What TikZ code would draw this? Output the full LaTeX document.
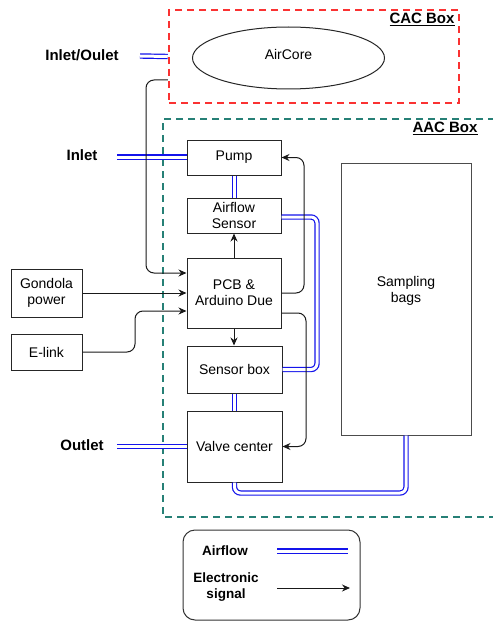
\documentclass[tikz,border=0pt]{standalone}
\usepackage{fontspec}
\setmainfont{Liberation Sans}
\usetikzlibrary{arrows.meta,calc,shapes.geometric}
\definecolor{airblue}{RGB}{20,20,235}
\definecolor{cacred}{RGB}{250,50,50}
\definecolor{aacteal}{RGB}{38,128,118}
\begin{document}
\begin{tikzpicture}[x=1pt,y=-1pt,
 box/.style={draw=black!85,line width=1pt,rectangle,align=center,font=\fontsize{14}{16}\selectfont,inner sep=0pt},
 air/.style={draw=airblue,double=white,double distance=3pt,line width=1.2pt,rounded corners=6pt},
 sig/.style={draw=black!90,line width=1pt,-{Stealth[length=8pt,width=7pt]},rounded corners=8pt},
 lab/.style={font=\bfseries\fontsize{15}{17}\selectfont},
 leglab/.style={font=\bfseries\fontsize{13.5}{16}\selectfont,align=center}
]
\useasboundingbox (0,0) rectangle (492,623);

% CAC box
\node[draw=cacred,dash pattern=on 7pt off 5pt,line width=2.5pt,minimum width=290pt,minimum height=93pt,inner sep=0pt] (cac) at (314,56.5) {};
\node[lab] (caclab) at (422,19) {\underline{CAC Box}};
\node[draw=black!85,line width=1pt,ellipse,minimum width=192pt,minimum height=62pt,inner sep=0pt] (aircore) at (288.5,58) {};
\node[font=\fontsize{14}{16}\selectfont] (aircorelab) at (288.5,54.5) {AirCore};

% AAC box
\draw[aacteal,dash pattern=on 7pt off 5pt,line width=2pt] (495,119) -- (163,119) -- (163,517) -- (495,517);
\node[lab] (aaclab) at (445,128) {\underline{AAC Box}};

% boxes
\node[box,minimum width=94pt,minimum height=35pt] (pump) at (234,157.5) {Pump};
\node[box,minimum width=94pt,minimum height=35pt] (afs) at (234,215.5) {Airflow\\Sensor};
\node[box,minimum width=94pt,minimum height=70pt] (pcb) at (234,293) {PCB \&\\Arduino Due};
\node[box,minimum width=95pt,minimum height=47pt] (sbox) at (234.5,369.5) {Sensor box};
\node[box,minimum width=95pt,minimum height=71pt] (valve) at (234.5,446.5) {Valve center};
\node[box,draw=black!70,minimum width=130pt,minimum height=272pt] (bags) at (406,299) {};
\node[font=\fontsize{14}{16}\selectfont,align=center] (bagslab) at (406,291) {Sampling\\bags};
\node[box,minimum width=71pt,minimum height=48pt] (gond) at (46.5,293) {Gondola\\power};
\node[box,minimum width=71pt,minimum height=36pt] (elink) at (46.5,352) {E-link};

% side labels
\node[lab] (io) at (82,55) {Inlet/Oulet};
\node[lab] (inlet) at (82,155) {Inlet};
\node[lab] (outlet) at (82,445) {Outlet};
\coordinate (ioend) at (140,56);
\coordinate (inend) at (117,157);
\coordinate (outend) at (117,446.5);

% airflow connectors
\draw[air] (ioend) -- (cac.west);
\draw[air] (inend) -- (pump.west |- inend);
\draw[air] (outend) -- (valve.west);
\draw[air] ([xshift=0.5pt]pump.south) -- ([xshift=0.5pt]afs.north);
\draw[air] (sbox.south) -- (valve.north);
\draw[air] ([yshift=-1.5pt]afs.east) -- (317,217) -- (317,369.5) -- (sbox.east);
\draw[air] (valve.south) -- (234.5,493) -- (406,493) -- (bags.south);

% signal connectors
\draw[sig] ([yshift=-23.5pt]cac.west) -- (146,80) -- (146,273) -- (pcb.west |- 0,273);
\draw[sig] (gond.east) -- (pcb.west);
\draw[sig] (elink.east) -- (135,352) -- (135,311) -- (pcb.west |- 0,311);
\draw[sig] (pcb.north) -- (afs.south);
\draw[sig] (pcb.south) -- (sbox.north -| pcb.south);
\draw[sig] (pcb.east) -- (304,293) -- (304,157.5) -- (pump.east);
\draw[sig] (pcb.east |- 0,313) -- (306,313) -- (306,446.5) -- (valve.east);

% legend
\node[draw=black!80,line width=1pt,rounded corners=12pt,minimum width=177pt,minimum height=90pt,inner sep=0pt] (legend) at (271.5,575) {};
\node[leglab] (lgair) at (225,551) {Airflow};
\node[leglab] (lgsig) at (226,587) {Electronic\\signal};
\coordinate (la1) at (277,551);
\coordinate (la2) at (348,551);
\coordinate (ls1) at (277,588);
\coordinate (ls2) at (350,588);
\draw[air] (la1) -- (la2);
\draw[sig] (ls1) -- (ls2);
\end{tikzpicture}
\end{document}
